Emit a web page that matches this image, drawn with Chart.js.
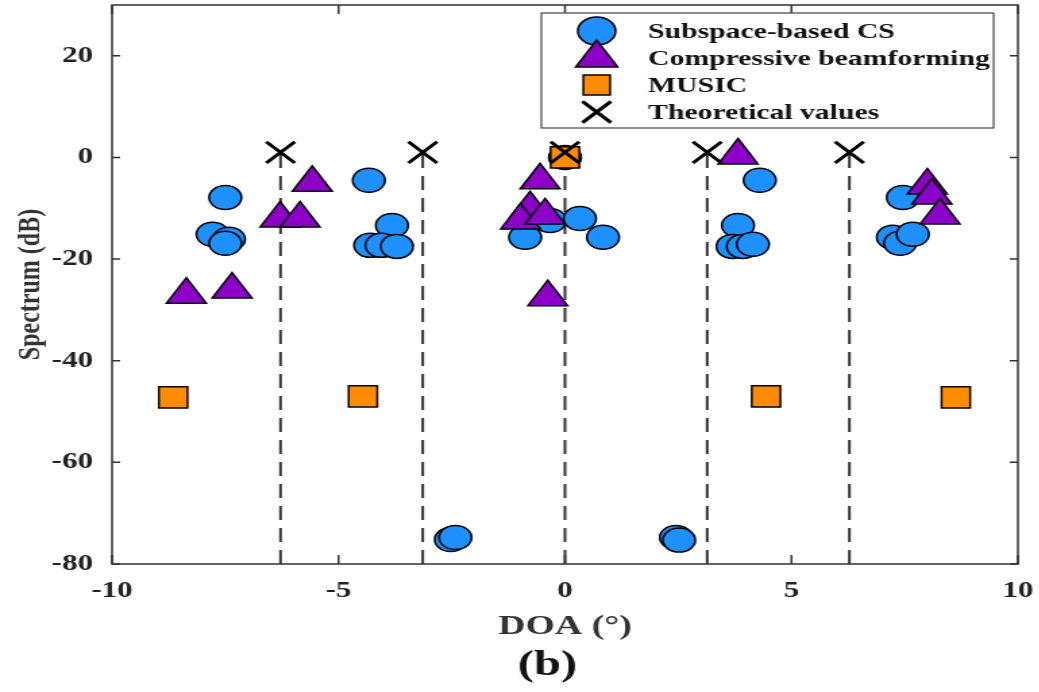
<!DOCTYPE html>
<html>
<head>
<meta charset="utf-8">
<script src="https://cdn.jsdelivr.net/npm/chart.js@4.4.7/dist/chart.umd.min.js"></script>
<style>
  html, body { margin: 0; padding: 0; background: #fff; overflow: hidden; }
  #wrap { width: 1039px; height: 692px; overflow: hidden; }
  /* the source figure is stretched sideways, so the chart is too */
  #chart { transform: scale(1.35, 1); transform-origin: 0 0; }
</style>
</head>
<body>
<div id="wrap"><canvas id="chart" width="770" height="692"></canvas></div>
<script>
// Subspace-based CS
const csDoa = [-7.50, -7.78, -7.42, -7.50, -4.33, -3.82, -4.30, -4.05, -3.71,
               -0.88, -0.33, 0.33, 0.84, 0.00, 3.82, 3.70, 3.93, 4.15, 4.30,
               7.46, 7.24, 7.40, 7.68, -2.52, -2.42, 2.45, 2.52];
const csDb  = [-7.9, -15.1, -16.1, -16.9, -4.5, -13.4, -17.3, -17.3, -17.5,
               -15.7, -12.4, -12.0, -15.7, 0.0, -13.4, -17.5, -17.5, -17.1, -4.5,
               -7.9, -15.7, -16.9, -15.1, -75.2, -74.8, -74.8, -75.3];
// Compressive beamforming
const cbDoa = [-8.36, -7.35, -5.58, -6.29, -5.85, -0.55, -0.77, -0.98, -0.44, -0.38,
               3.82, 8.00, 8.10, 8.28];
const cbDb  = [-27.0, -26.0, -5.0, -12.0, -12.0, -4.5, -10.0, -12.4, -11.4, -27.5,
               0.4, -5.5, -7.5, -11.4];
// MUSIC
const musicDoa = [-8.65, -4.46, 0.00, 4.44, 8.63];
const musicDb  = [-47.2, -47.0, 0.0, -47.0, -47.2];
// Theoretical values
const theoDoa = [-6.28, -3.14, 0.00, 3.14, 6.28];
const theoDb  = [1, 1, 1, 1, 1];

const xTicks = [-10, -5, 0, 5, 10];
const yTicks = [-80, -60, -40, -20, 0, 20];

const BLUE = "#1e90ff";
const PURPLE = "#8c00c8";
const ORANGE = "#ff8c00";
const SERIF = "'Liberation Serif', 'DejaVu Serif', serif";

const pts = (xs, ys) => xs.map((x, i) => ({ x: x, y: ys[i] }));

// dashed stems from the axis bottom up to each theoretical value
const stems = [];
theoDoa.forEach((x, i) => {
    stems.push({ x: x, y: -80 }, { x: x, y: theoDb[i] }, { x: x, y: null });
});

const legendItems = [
    { label: "Subspace-based CS", style: "circle", color: BLUE, r: 14 },
    { label: "Compressive beamforming", style: "triangle", color: PURPLE, r: 18 },
    { label: "MUSIC", style: "rect", color: ORANGE, r: 14 },
    { label: "Theoretical values", style: "crossRot", color: "#000", r: 15 },
];

const framePlugin = {
    id: "frame",
    afterDatasetsDraw(chart) {
        const { ctx, chartArea: a, scales } = chart;
        ctx.save();
        ctx.strokeStyle = "#333";
        ctx.lineWidth = 1.5;
        ctx.strokeRect(a.left, a.top, a.right - a.left, a.bottom - a.top);
        ctx.beginPath();
        xTicks.forEach(v => {
            const px = scales.x.getPixelForValue(v);
            ctx.moveTo(px, a.bottom); ctx.lineTo(px, a.bottom - 9);
            ctx.moveTo(px, a.top); ctx.lineTo(px, a.top + 9);
        });
        yTicks.forEach(v => {
            const py = scales.y.getPixelForValue(v);
            ctx.moveTo(a.left, py); ctx.lineTo(a.left + 6, py);
            ctx.moveTo(a.right, py); ctx.lineTo(a.right - 6, py);
        });
        ctx.stroke();

        // legend box
        const bx = a.left + 318, by = a.top + 8, bw = 335, bh = 115;
        ctx.fillStyle = "#fff";
        ctx.fillRect(bx, by, bw, bh);
        ctx.strokeStyle = "#444";
        ctx.lineWidth = 1.2;
        ctx.strokeRect(bx, by, bw, bh);
        ctx.textBaseline = "middle";
        ctx.font = "bold 22px " + SERIF;
        legendItems.forEach((it, i) => {
            const cy = by + 18 + i * 27;
            const cx = bx + 41;
            ctx.fillStyle = it.color;
            ctx.strokeStyle = "#000";
            ctx.lineWidth = it.style === "crossRot" ? 3 : 1.5;
            Chart.helpers.drawPoint(ctx, { pointStyle: it.style, radius: it.r, borderWidth: ctx.lineWidth }, cx, cy);
            ctx.fillStyle = "#111";
            ctx.fillText(it.label, bx + 79, cy + 1);
        });

        // panel label under the axis title
        ctx.font = "bold 36px " + SERIF;
        ctx.textAlign = "center";
        ctx.fillStyle = "#111";
        ctx.fillText("(b)", (a.left + a.right) / 2 - 13, a.bottom + 102);
        ctx.restore();
    },
};

new Chart(document.getElementById("chart"), {
    type: "scatter",
    data: {
        datasets: [
            {
                label: "stems",
                type: "line",
                data: stems,
                borderColor: "#333",
                borderWidth: 2,
                borderDash: [14, 8],
                pointRadius: 0,
                spanGaps: false,
                fill: false,
                order: 5,
            },
            {
                label: "Subspace-based CS",
                data: pts(csDoa, csDb),
                pointStyle: "circle",
                pointRadius: 12,
                backgroundColor: BLUE,
                borderColor: "#000",
                borderWidth: 1.5,
                order: 4,
            },
            {
                label: "Compressive beamforming",
                data: pts(cbDoa, cbDb),
                pointStyle: "triangle",
                pointRadius: 17,
                backgroundColor: PURPLE,
                borderColor: "#000",
                borderWidth: 1.5,
                order: 3,
            },
            {
                label: "MUSIC",
                data: pts(musicDoa, musicDb),
                pointStyle: "rect",
                pointRadius: 15,
                backgroundColor: ORANGE,
                borderColor: "#000",
                borderWidth: 1.5,
                order: 2,
            },
            {
                label: "Theoretical values",
                data: pts(theoDoa, theoDb),
                pointStyle: "crossRot",
                pointRadius: 15,
                borderColor: "#000",
                borderWidth: 3,
                order: 1,
            },
        ],
    },
    options: {
        responsive: false,
        animation: false,
        layout: { autoPadding: false, padding: { top: 5, right: 16, left: 0, bottom: 0 } },
        plugins: {
            legend: { display: false },
            tooltip: { enabled: false },
        },
        scales: {
            x: {
                type: "linear",
                min: -10,
                max: 10,
                afterBuildTicks: s => { s.ticks = xTicks.map(v => ({ value: v })); },
                afterFit: s => { s.height = 128; s.paddingLeft = 0; s.paddingRight = 0; },
                grid: { display: false, drawTicks: false },
                border: { display: false },
                ticks: {
                    color: "#222",
                    padding: 13,
                    font: { family: SERIF, size: 23, weight: "bold" },
                },
                title: {
                    display: true,
                    text: "DOA (°)",
                    color: "#333",
                    font: { family: SERIF, size: 28, weight: "bold" },
                    padding: { top: 4, bottom: 48 },
                },
            },
            y: {
                min: -80,
                max: 30,
                afterBuildTicks: s => { s.ticks = yTicks.map(v => ({ value: v })); },
                afterFit: s => { s.width = 83; s.paddingTop = 0; s.paddingBottom = 0; },
                grid: { display: false, drawTicks: false },
                border: { display: false },
                ticks: {
                    color: "#222",
                    padding: 14,
                    font: { family: SERIF, size: 23, weight: "bold" },
                },
                title: {
                    display: true,
                    text: "Spectrum (dB)",
                    color: "#333",
                    font: { family: SERIF, size: 24, weight: "bold" },
                    padding: { top: 8, bottom: 2 },
                },
            },
        },
    },
    plugins: [framePlugin],
});
</script>
</body>
</html>
